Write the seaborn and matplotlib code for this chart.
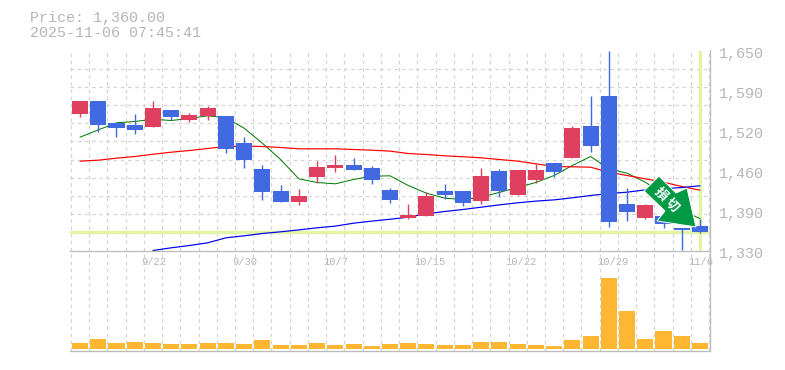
import numpy as np
import pandas as pd
import seaborn as sns
import matplotlib
matplotlib.use("Agg")
import matplotlib.pyplot as plt
from matplotlib.patches import Polygon
from matplotlib.transforms import Affine2D, ScaledTranslation

W, H = 785, 370

opens = [1549.2, 1568.4, 1533.2, 1531.6, 1528.4, 1555.6, 1539.6, 1546.0, 1546.0, 1501.2, 1461.2, 1426.0,
         1408.4, 1448.4, 1462.8, 1466.0, 1461.2, 1426.0, 1382.8, 1386.0, 1424.4, 1424.4, 1410.0, 1456.4,
         1419.6, 1443.6, 1470.8, 1478.8, 1528.4, 1578.0, 1405.2, 1382.8, 1386.0, 1366.3, 1370.0]
closes = [1568.4, 1531.6, 1526.8, 1523.6, 1558.8, 1544.4, 1547.6, 1557.2, 1493.2, 1475.6, 1424.4, 1408.4,
          1418.0, 1464.4, 1466.0, 1459.6, 1443.6, 1411.6, 1386.5, 1418.0, 1419.6, 1406.8, 1448.4, 1426.0,
          1458.0, 1458.0, 1456.4, 1526.8, 1498.0, 1376.4, 1392.4, 1402.0, 1373.0, 1363.0, 1360.0]
highs = [1570.0, 1568.4, 1534.8, 1549.2, 1570.0, 1555.6, 1550.8, 1562.0, 1546.0, 1512.4, 1467.6, 1435.6,
         1429.2, 1474.0, 1483.6, 1478.8, 1466.0, 1430.8, 1405.2, 1424.4, 1437.2, 1424.4, 1462.8, 1461.2,
         1458.0, 1469.2, 1470.8, 1530.0, 1578.0, 1650.0, 1430.8, 1405.2, 1386.0, 1366.3, 1381.2]
lows = [1543.3, 1520.4, 1512.4, 1517.2, 1528.4, 1539.6, 1536.4, 1539.6, 1486.8, 1462.8, 1411.6, 1408.4,
        1403.6, 1438.8, 1456.4, 1459.6, 1437.2, 1406.8, 1380.1, 1386.0, 1412.1, 1402.0, 1405.2, 1416.4,
        1419.6, 1438.8, 1448.4, 1478.8, 1488.4, 1368.4, 1378.0, 1381.2, 1366.0, 1331.6, 1358.8]
volumes = [6, 10, 6, 7, 6, 5, 5, 6, 6, 5, 9, 4, 4, 6, 4, 5, 3, 5,
           6, 5, 4, 4, 7, 7, 5, 4, 3, 9, 13, 71, 38, 10, 18, 13, 6]

ma_short = [1511.3, 1523.0, 1534.3, 1536.4, 1540.0, 1538.0, 1541.2, 1545.5, 1542.3, 1525.7, 1501.7, 1475.6,
            1444.7, 1438.8, 1436.7, 1443.6, 1448.9, 1449.5, 1434.0, 1421.7, 1413.7, 1411.6, 1415.3, 1423.0,
            1431.0, 1438.8, 1450.0, 1466.0, 1480.4, 1460.7, 1453.7, 1439.3, 1420.0, 1395.0, 1381.0]
ma_mid = [1473.0, 1474.5, 1477.7, 1480.4, 1484.0, 1487.3, 1490.0, 1493.2, 1496.4, 1497.0, 1496.4, 1494.8,
          1492.7, 1492.7, 1492.7, 1491.6, 1490.5, 1489.0, 1485.2, 1483.6, 1481.5, 1480.0, 1478.3, 1475.6,
          1473.0, 1468.7, 1464.4, 1463.9, 1463.3, 1455.3, 1450.0, 1444.7, 1439.3, 1432.4, 1426.5]
ma_long = [1330.0, 1334.3, 1338.0, 1342.3, 1350.3, 1353.5, 1357.2, 1359.9, 1363.0, 1366.3, 1369.0, 1373.7,
           1377.0, 1380.0, 1383.3, 1388.7, 1392.4, 1395.6, 1399.3, 1403.0, 1406.3, 1409.0, 1411.0, 1414.3,
           1418.0, 1421.2, 1423.3, 1427.0, 1428.7, 1430.8, 1433.5]

date_pos = [4, 9, 14, 19, 24, 29, 34]
date_labels = ["9/22", "9/30", "10/7", "10/15", "10/22", "10/29", "11/6"]
price_labels = ["1,650", "1,590", "1,520", "1,460", "1,390", "1,330"]
last_price = 1360
alert_text = ["損", "切"]

df = pd.DataFrame({"i": range(len(opens)), "o": opens, "c": closes, "h": highs, "l": lows, "vol": volumes})
df["up"] = df["c"] > df["o"]
df["bottom"] = df[["o", "c"]].min(axis=1)
df["size"] = (df["c"] - df["o"]).abs()

RED = "#e04060"
BLUE = "#4169e1"
GRID = "#d4d4d4"
AXIS = "#bbbbbb"
TXT = "#b6b6b6"
LIME = "#e2f5a5"
mono = "Liberation Mono"
PX = 0.72  # one pixel in points

sns.set_theme(style="white")
fig = plt.figure(figsize=(W / 100, H / 100), dpi=100, facecolor="white")
# both panels placed by pixels
ax = fig.add_axes([70 / W, 1 - 250.5 / H, 640 / W, 200 / H])
vx = fig.add_axes([70 / W, 1 - 350.5 / H, 640 / W, 100 / H])

xlim = (-0.55, 34.55)
edges = np.arange(-0.5, 35, 1)

for a in (ax, vx):
    a.set_xlim(*xlim)
    a.set_facecolor("none")
    for s in a.spines.values():
        s.set_visible(False)
    a.set_xticks(edges, minor=True)
    a.grid(True, which="minor", axis="x", color=GRID, lw=PX * 1.2, ls=(0, (3, 3)))
    a.tick_params(which="both", length=0)
    a.set_axisbelow(True)

# price panel
ax.set_ylim(1330, 1650)
ax.set_yticks(np.linspace(1330, 1650, 12), minor=True)
ax.grid(True, which="minor", axis="y", color=GRID, lw=PX * 1.2, ls=(0, (3, 3)))
ax.axhline(last_price, color=LIME, lw=3.4 * PX, zorder=1.5)
ax.axvline(len(opens) - 1, ymin=0.01, ymax=1, color=LIME, lw=3.4 * PX, zorder=1.5)

ax.plot(range(len(ma_short)), ma_short, color="#007a00", lw=PX, zorder=2)
ax.plot(range(len(ma_mid)), ma_mid, color="#ff0000", lw=PX * 1.2, zorder=2)
ax.plot(range(4, 4 + len(ma_long)), ma_long, color="#0000ee", lw=PX * 1.2, zorder=2)

ax.vlines(df["i"], df["l"], df["h"], colors=[RED if u else BLUE for u in df["up"]], lw=PX * 1.4, zorder=3)
ax.bar(df["i"], df["size"], bottom=df["bottom"], width=0.88,
       color=[RED if u else BLUE for u in df["up"]], linewidth=0, zorder=4)

ax.set_xticks(date_pos)
ax.set_xticklabels(date_labels, fontfamily=mono, fontsize=7.6, color=TXT)
ax.tick_params(axis="x", pad=4.5)
# labels are evenly spaced, the printed prices are rounded
ax.set_yticks(np.linspace(1650, 1330, len(price_labels)))
ax.set_yticklabels(price_labels, fontfamily=mono, fontsize=10.8, color=TXT)
ax.yaxis.tick_right()
ax.tick_params(axis="y", pad=6.5)
# labels hang a bit off their ticks in the original
for t in ax.get_xticklabels():
    t.set_ha("left")
    t.set_transform(t.get_transform() + ScaledTranslation(-12 / 100, 0, fig.dpi_scale_trans))
for t in ax.get_yticklabels():
    t.set_transform(t.get_transform() + ScaledTranslation(0, -2 / 100, fig.dpi_scale_trans))

# volume panel
sns.barplot(data=df, x="i", y="vol", ax=vx, color="#ffb733", saturation=1, width=0.88,
            native_scale=True, linewidth=0, zorder=3)
vx.set_xlim(*xlim)
vx.set_ylim(-2, 98)
vx.set_xlabel("")
vx.set_ylabel("")
vx.set_xticks([])
vx.set_yticks([])

# frame lines
line_kw = dict(color=AXIS, lw=PX * 1.3, transform=fig.transFigure, zorder=10)
fig.add_artist(plt.Line2D([70 / W, 710 / W], [1 - 250.5 / H] * 2, **line_kw))
fig.add_artist(plt.Line2D([70 / W, 710 / W], [1 - 350.5 / H] * 2, **line_kw))
fig.add_artist(plt.Line2D([710 / W] * 2, [1 - 50 / H, 1 - 350.5 / H], **line_kw))

# header
fig.text(30 / W, 1 - 18 / H, "Price: 1,360.00", family=mono, fontsize=10.8, color=TXT, va="center")
fig.text(30 / W, 1 - 33 / H, "2025-11-06 07:45:41", family=mono, fontsize=10.8, color=TXT, va="center")

# alert arrow, pixel coordinates
to_fig = Affine2D().scale(1 / W, -1 / H).translate(0, 1) + fig.transFigure
arrow = [(659, 176), (644, 191), (665, 211), (657, 221), (696, 227), (687, 188), (676, 193)]
fig.add_artist(Polygon(arrow, closed=True, facecolor="#009944", edgecolor="white", lw=PX,
                       transform=to_fig, zorder=20))
fig.text(660.5 / W, 1 - 194 / H, alert_text[0], family="Noto Sans CJK JP", fontsize=9.5, fontweight="bold",
         color="white", ha="center", va="center", rotation=-45, zorder=21)
fig.text(672 / W, 1 - 205 / H, alert_text[1], family="Noto Sans CJK JP", fontsize=9.5, fontweight="bold",
         color="white", ha="center", va="center", rotation=-45, zorder=21)

fig.savefig("out.png", dpi=100, facecolor="white")
